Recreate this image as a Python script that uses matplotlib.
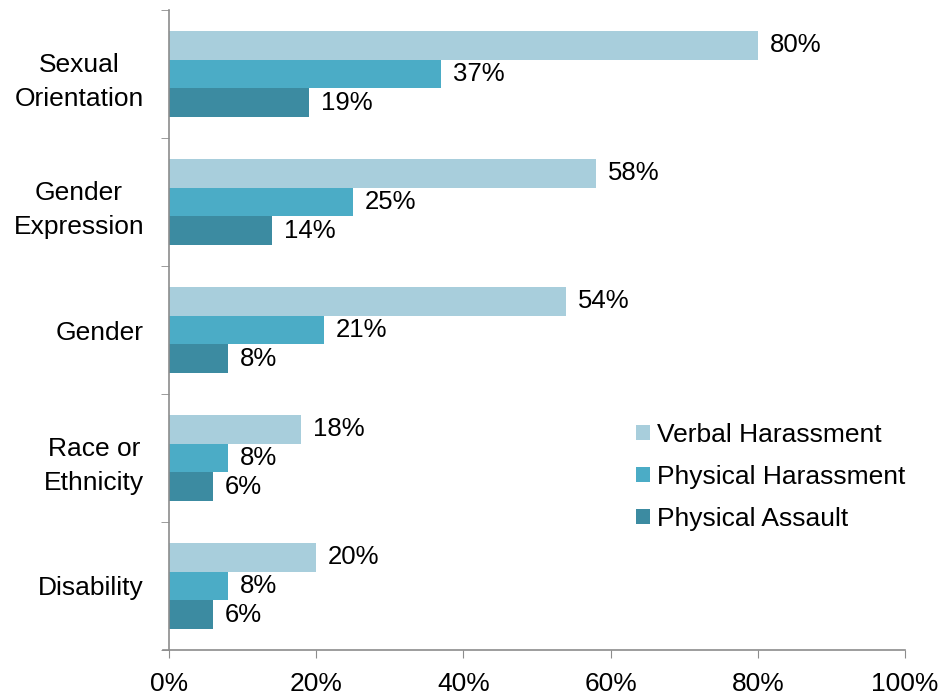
import matplotlib
matplotlib.use("Agg")
import matplotlib.pyplot as plt
import numpy as np
from matplotlib.patches import Patch

plt.rcParams["font.family"] = ["Liberation Sans", "DejaVu Sans"]

# ── data ──────────────────────────────────────────────────────────────────────
categories = ["Sexual\nOrientation", "Gender\nExpression", "Gender",
              "Race or\nEthnicity", "Disability"]
verbal_harassment = [80, 58, 54, 18, 20]
physical_harassment = [37, 25, 21, 8, 8]
physical_assault = [19, 14, 8, 6, 6]
series_names = ["Verbal Harassment", "Physical Harassment", "Physical Assault"]
x_ticks = [0, 20, 40, 60, 80, 100]

colors = ["#A8CEDC", "#4BACC6", "#3C8BA1"]
axis_grey = "#8C8C8C"

# ── plot ──────────────────────────────────────────────────────────────────────
fig = plt.figure(figsize=(9.43, 7.0), dpi=100)
ax = fig.add_axes([169 / 943, 50 / 700, 736 / 943, 640 / 700])

y = np.arange(len(categories))
h = 0.224
series = [verbal_harassment, physical_harassment, physical_assault]
for k, (vals, col) in enumerate(zip(series, colors)):
    pos = y + (k - 1) * h
    ax.barh(pos, vals, height=h, color=col, edgecolor="none")
    for p, v in zip(pos, vals):
        ax.text(v + 1.6, p, f"{v}%", ha="left", va="center",
                fontsize=18.5, color="black")

ax.set_xlim(0, 100)
ax.set_ylim(len(categories) - 0.5, -0.5)

ax.set_xticks(x_ticks)
ax.set_xticklabels([f"{t}%" for t in x_ticks], fontsize=19)
ax.tick_params(axis="x", length=6, color=axis_grey, direction="out", pad=10)

ax.set_yticks(y)
ax.set_yticklabels(categories, fontsize=19, multialignment="center",
                   linespacing=1.55)
ax.tick_params(axis="y", which="major", length=0, pad=18)
ax.set_yticks(np.arange(len(categories) + 1) - 0.5, minor=True)
ax.tick_params(axis="y", which="minor", length=6, color=axis_grey, direction="out")

for side in ["top", "right"]:
    ax.spines[side].set_visible(False)
for side in ["left", "bottom"]:
    ax.spines[side].set_color(axis_grey)
    ax.spines[side].set_linewidth(1.2)
ax.spines["bottom"].set_bounds(-0.8, 100)

handles = [Patch(facecolor=c, edgecolor="none") for c in colors]
ax.legend(handles, series_names, loc="upper left",
          bbox_to_anchor=(0.6345, 0.355), frameon=False, fontsize=19,
          borderpad=0, borderaxespad=0,
          handlelength=0.53, handleheight=0.53, handletextpad=0.27,
          labelspacing=0.68)

fig.savefig("out.png", dpi=100)
